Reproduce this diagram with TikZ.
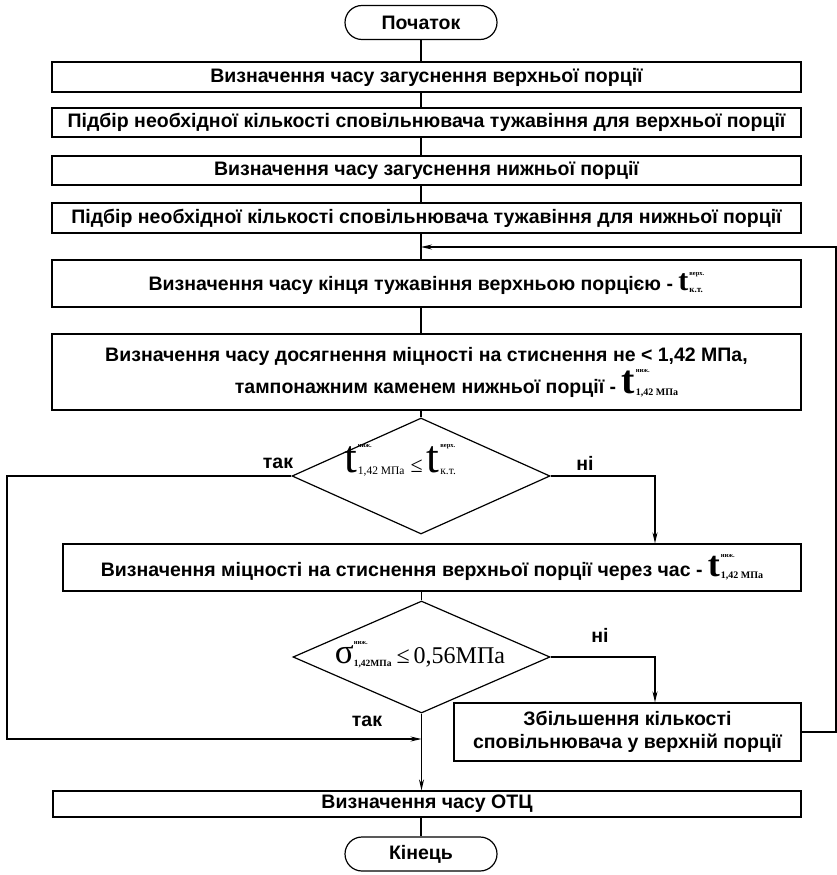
\documentclass[tikz,border=0pt]{standalone}
\usepackage{fontspec}
\usepackage{calc}
\setmainfont{Liberation Sans}
\newfontfamily\tnr{Liberation Serif}
\usetikzlibrary{arrows.meta,shapes.geometric}
\newcommand\bodyf{\bfseries\fontsize{19.5}{23}\selectfont}
\newcommand\supsf[1]{{\tnr\bfseries\fontsize{6.5}{6.5}\selectfont #1}}
\newcommand\subsf[2]{{\tnr\fontsize{#1}{#1}\selectfont #2}}
% #1 t size, #2 sup, #3 sub, #4 sub size, #5 sub drop, #6 sup raise
\newcommand\TT[6]{{\tnr\fontsize{#1}{#1}\selectfont t}\hspace{1pt}\raisebox{-#5}{\rlap{\raisebox{#6}{\supsf{#2}}}\rlap{\subsf{#4}{#3}}\hspace{\maxof{\widthof{\supsf{#2}}}{\widthof{\subsf{#4}{#3}}}}}}
\begin{document}
\begin{tikzpicture}[x=1pt,y=-1pt,line width=1.2pt,
  box/.style={draw,rectangle,inner sep=0pt,font=\bodyf,align=center},
  term/.style={draw,rectangle,rounded corners=17pt,inner sep=0pt,minimum width=152pt,minimum height=34pt,font=\bodyf},
  dia/.style={draw,diamond,inner sep=0pt},
  lbl/.style={font=\bodyf,inner sep=0pt},
  arr/.style={-{Stealth[length=11pt,width=5pt]}}]
\useasboundingbox (0,0) rectangle (837,875);

\node[term] (st) at (421,22.5) {Початок};
\node[box,minimum width=749pt,minimum height=30pt] (b1) at (426.5,77) {Визначення часу загуснення верхньої порції};
\node[box,minimum width=749pt,minimum height=29pt] (b2) at (426.5,122.5) {Підбір необхідної кількості сповільнювача тужавіння для верхньої порції};
\node[box,minimum width=749pt,minimum height=29pt] (b3) at (426.5,170.5) {Визначення часу загуснення нижньої порції};
\node[box,minimum width=749pt,minimum height=30pt] (b4) at (426.5,218) {Підбір необхідної кількості сповільнювача тужавіння для нижньої порції};
\node[box,minimum width=749pt,minimum height=47pt] (b5) at (426.5,283.5) {Визначення часу кінця тужавіння верхньою порцією -\ \TT{30}{верх.}{к.т.}{9}{2pt}{17pt}};
\node[box,minimum width=749pt,minimum height=76pt] (b6) at (426.5,372) {Визначення часу досягнення міцності на стиснення не < 1,42 МПа,\\[3pt]\hspace*{60pt}тампонажним каменем нижньої порції -\ \TT{40}{ниж.}{1,42 МПа}{10}{2pt}{23pt}};

\node[dia,minimum width=258pt,minimum height=116pt] (d1) at (421,476) {};
\node[inner sep=0pt] (f1) at (400,460) {\TT{46}{ниж.}{1,42 МПа}{11.5}{2pt}{27pt}\hspace{6pt}{\tnr\fontsize{22}{22}\selectfont ≤}\hspace{4pt}\TT{46}{верх.}{к.т.}{11.5}{2pt}{27pt}};
\node[lbl] (yes1) at (278,463) {так};
\node[lbl] (no1) at (585,463) {ні};

\node[box,minimum width=738pt,minimum height=47pt] (b7) at (432,567.5) {Визначення міцності на стиснення верхньої порції через час -\ \TT{36}{ниж.}{1,42 МПа}{10}{2pt}{21pt}};

\node[dia,minimum width=257pt,minimum height=112pt] (d2) at (421.5,657) {};
\node[inner sep=0pt] (f2) at (420,655) {{\tnr\fontsize{35}{35}\selectfont σ}\raisebox{-3pt}{\rlap{\raisebox{22pt}{\supsf{ниж.}}}{\tnr\bfseries\fontsize{9.5}{9.5}\selectfont 1,42МПа}}\hspace{5pt}{\tnr\fontsize{24}{24}\selectfont ≤\,0,56МПа}};
\node[lbl] (no2) at (600,635) {ні};
\node[lbl] (yes2) at (367,721) {так};

\node[box,minimum width=347pt,minimum height=58pt] (b8) at (627.5,732) {Збільшення кількості\\сповільнювача у верхній порції};
\node[box,minimum width=748pt,minimum height=26pt] (b9) at (427,804) {Визначення часу ОТЦ};
\node[term] (en) at (421,854) {Кінець};

\coordinate (L1) at (7,476);
\coordinate (L2) at (7,739);
\coordinate (R1) at (655,476);
\coordinate (R2) at (655,657);
\coordinate (F1) at (836,732);
\coordinate (F2) at (836,247);

\draw (st.south) -- (st.south |- b1.north);
\draw (st.south |- b1.south) -- (st.south |- b2.north);
\draw (st.south |- b2.south) -- (st.south |- b3.north);
\draw (st.south |- b3.south) -- (st.south |- b4.north);
\draw (st.south |- b4.south) -- (st.south |- b5.north);
\draw (st.south |- b5.south) -- (st.south |- b6.north);
\draw (d1.north |- b6.south) -- (d1.north);
\draw[arr] (d1.east) -- (R1) -- (R1 |- b7.north);
\draw[arr] (d1.west) -- (L1) -- (L2) -- (L2 -| d2.south);
\draw (d2.north |- b7.south) -- (d2.north);
\draw[arr] (d2.east) -- (R2) -- (R2 |- b8.north);
\draw[arr] (d2.south) -- (d2.south |- b9.north);
\draw[arr] (b8.east) -- (F1) -- (F2) -- (F2 -| st.south);
\draw (en.north |- b9.south) -- (en.north);
\end{tikzpicture}
\end{document}
